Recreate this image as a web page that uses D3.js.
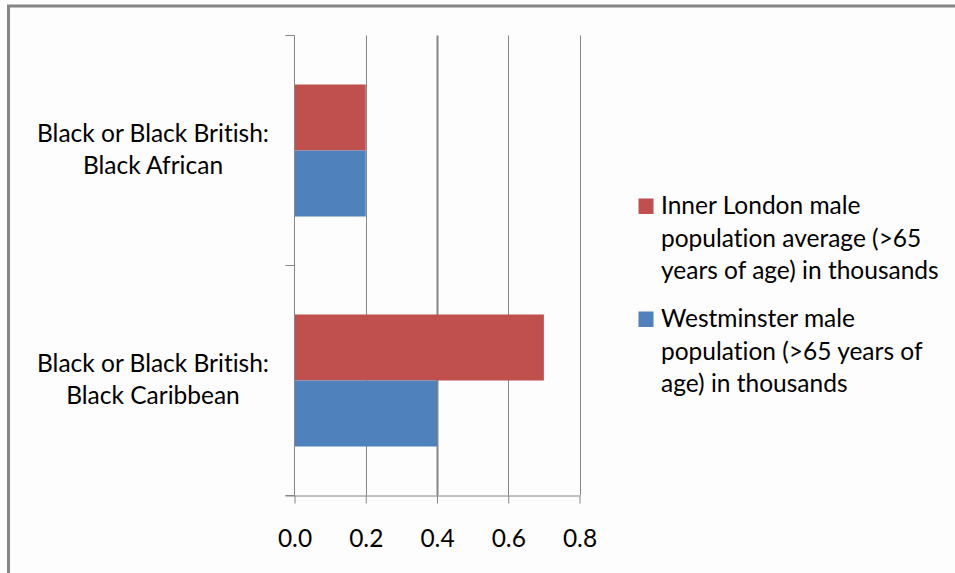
<!DOCTYPE html>
<html>
<head>
<meta charset="utf-8">
<script src="https://cdn.jsdelivr.net/npm/d3@7"></script>
<style>
  html, body { margin: 0; padding: 0; background: #fdfdfd; }
  svg { display: block; }
  text { font-family: Lato, "Open Sans", sans-serif; fill: #000; font-variant-ligatures: none; }
</style>
</head>
<body>
<svg id="chart" width="955" height="573"></svg>
<script>
// Categories, top to bottom
const categories = [
  ["Black or Black British:", "Black African"],
  ["Black or Black British:", "Black Caribbean"]
];
const categoryKeys = ["African", "Caribbean"];

// Series names (legend text, split into lines)
const seriesNames = [
  ["Inner London male", "population average (>65", "years of age) in thousands"],
  ["Westminster male", "population (>65 years of", "age) in thousands"]
];
const seriesColors = ["#C0504D", "#4F81BD"];

// Values in thousands, per category
const innerLondon = [0.2, 0.7];
const westminster = [0.2, 0.4];

const xTicks = [0.0, 0.2, 0.4, 0.6, 0.8];

const svg = d3.select("#chart");
const gray = "#868686";
const fontSize = 24.5;

// outer frame (only top and left edges fall inside the view)
svg.append("rect")
  .attr("x", 8.5).attr("y", 6)
  .attr("width", 1000).attr("height", 1000)
  .attr("fill", "none").attr("stroke", gray).attr("stroke-width", 3);

const plot = { left: 294.5, right: 579.5, top: 35.5, bottom: 495.5 };

const x = d3.scaleLinear().domain([0, 0.8]).range([plot.left, plot.right]);
const y = d3.scaleBand().domain(categoryKeys)
  .range([plot.top, plot.bottom]).paddingInner(0.426).paddingOuter(0.213);
const ySeries = d3.scaleBand().domain([0, 1]).range([0, y.bandwidth()]);

// vertical gridlines
svg.append("g").selectAll("line")
  .data(xTicks.slice(1))
  .join("line")
  .attr("x1", d => Math.round(x(d)) + 0.5).attr("x2", d => Math.round(x(d)) + 0.5)
  .attr("y1", plot.top).attr("y2", plot.bottom)
  .attr("stroke", gray).attr("stroke-width", d => d === 0.4 ? 2 : 1);

// bars
const rows = categoryKeys.map((k, i) => ({ key: k, values: [innerLondon[i], westminster[i]] }));
const groups = svg.append("g").selectAll("g")
  .data(rows).join("g")
  .attr("transform", d => `translate(0,${y(d.key)})`);
groups.selectAll("rect")
  .data(d => d.values.map((v, s) => ({ v, s })))
  .join("rect")
  .attr("x", x(0))
  .attr("y", d => ySeries(d.s))
  .attr("width", d => x(d.v) - x(0))
  .attr("height", ySeries.bandwidth())
  .attr("fill", d => seriesColors[d.s]);

// x axis
const xAxis = d3.axisBottom(x).tickValues(xTicks).tickFormat(d3.format(".1f"))
  .tickSize(8).tickSizeOuter(0);
const gx = svg.append("g").attr("transform", `translate(0,${plot.bottom})`).call(xAxis);
gx.select(".domain").attr("d", `M${plot.left - 9},0.5H${plot.right}`).attr("stroke", gray);
gx.selectAll(".tick line").attr("stroke", gray);
gx.selectAll(".tick text")
  .attr("font-size", fontSize).attr("font-family", "Lato, sans-serif").attr("fill", "#000")
  .attr("y", 51.5).attr("dy", 0);

// y axis line and category boundary ticks
const yAxisG = svg.append("g");
yAxisG.append("line")
  .attr("x1", plot.left).attr("x2", plot.left)
  .attr("y1", plot.top).attr("y2", plot.bottom)
  .attr("stroke", gray);
yAxisG.selectAll("line.tick")
  .data([plot.top, (plot.top + plot.bottom) / 2, plot.bottom])
  .join("line").attr("class", "tick")
  .attr("x1", plot.left - 9).attr("x2", plot.left)
  .attr("y1", d => d).attr("y2", d => d)
  .attr("stroke", gray);

// category labels, two lines centred on each bar group
const catLabels = svg.append("g").selectAll("text")
  .data(rows).join("text")
  .attr("text-anchor", "middle")
  .attr("font-size", fontSize)
  .attr("x", 153)
  .attr("y", d => y(d.key) + y.bandwidth() / 2 - 9);
catLabels.selectAll("tspan")
  .data((d, i) => categories[i])
  .join("tspan")
  .attr("x", 153)
  .attr("dy", (d, i) => i === 0 ? 0 : 32)
  .text(d => d);

// legend
const legend = svg.append("g");
const legendBaseline = [214, 327];
seriesNames.forEach((lines, s) => {
  legend.append("rect")
    .attr("x", 638.5).attr("y", legendBaseline[s] - 15.5)
    .attr("width", 15).attr("height", 15.5)
    .attr("fill", seriesColors[s]);
  const t = legend.append("text").attr("font-size", fontSize).attr("y", legendBaseline[s]);
  t.selectAll("tspan").data(lines).join("tspan")
    .attr("x", 661)
    .attr("dy", (d, i) => i === 0 ? 0 : 32.5)
    .text(d => d);
});
</script>
</body>
</html>
